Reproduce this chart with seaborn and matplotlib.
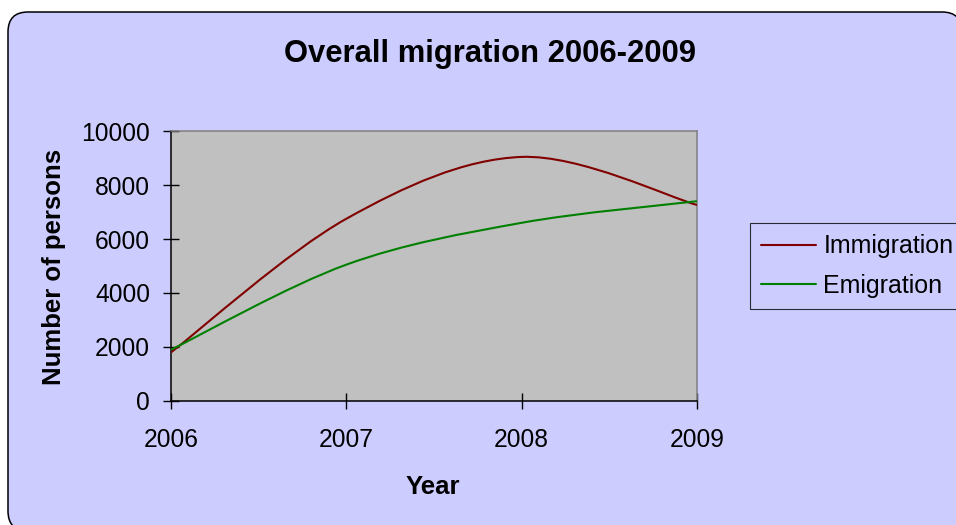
import numpy as np
import matplotlib
matplotlib.use("Agg")
import matplotlib.pyplot as plt
from matplotlib.path import Path
from matplotlib.patches import PathPatch, FancyBboxPatch
from matplotlib.lines import Line2D
import seaborn as sns

# Yearly totals
years = [2006, 2007, 2008, 2009]
immigration = [1800, 6750, 9040, 7260]
emigration = [1900, 5050, 6600, 7400]
series_names = ["Immigration", "Emigration"]
series_colors = ["#800000", "#008000"]
y_ticks = [0, 2000, 4000, 6000, 8000, 10000]
x_tick_labels = ["2006", "2007", "2008", "2009"]

sns.set_theme(style="white")
plt.rcParams["font.family"] = ["Liberation Sans", "DejaVu Sans"]
plt.rcParams["text.color"] = "black"
plt.rcParams["axes.labelcolor"] = "black"

W, H = 956, 525
fig = plt.figure(figsize=(W / 100, H / 100), dpi=100)
fig.patch.set_facecolor("white")


def fx(px):
    return px / W


def fy(py):
    return 1 - py / H


# Rounded chart panel (coordinates in inches so the corners stay circular)
panel_left, panel_top, panel_right, panel_bottom = 8, 12, 962, 531
panel = FancyBboxPatch((panel_left / 100, (H - panel_bottom) / 100),
                       (panel_right - panel_left) / 100, (panel_bottom - panel_top) / 100,
                       boxstyle="round,pad=0,rounding_size=0.2",
                       transform=fig.dpi_scale_trans, facecolor="#CCCCFF",
                       edgecolor="black", linewidth=1.1, zorder=0)
fig.add_artist(panel)

ax = fig.add_axes([fx(171), fy(401), (697 - 171) / W, (401 - 131) / H])
ax.set_facecolor("#C0C0C0")


def smooth_path(xs, ys):
    """Cubic Bezier path through the points (spreadsheet-style smoothed line)."""
    pts = np.column_stack([xs, ys]).astype(float)
    n = len(pts)
    verts = [pts[0]]
    codes = [Path.MOVETO]
    for i in range(n - 1):
        p0 = pts[max(i - 1, 0)]
        p1 = pts[i]
        p2 = pts[i + 1]
        p3 = pts[min(i + 2, n - 1)]
        c1 = p1 + (p2 - p0) / 6.0
        c2 = p2 - (p3 - p1) / 6.0
        verts += [c1, c2, p2]
        codes += [Path.CURVE4] * 3
    return Path(verts, codes)


for values, color in zip([immigration, emigration], series_colors):
    ax.add_patch(PathPatch(smooth_path(years, values), facecolor="none",
                           edgecolor=color, linewidth=1.5, zorder=3,
                           capstyle="butt", joinstyle="round"))

ax.set_xlim(years[0], years[-1])
ax.set_ylim(y_ticks[0], y_ticks[-1])
ax.set_xticks(years)
ax.set_xticklabels(x_tick_labels)
ax.set_yticks(y_ticks)
ax.set_yticklabels([str(v) for v in y_ticks])
ax.grid(False)

for side in ["left", "bottom"]:
    ax.spines[side].set_color("black")
    ax.spines[side].set_linewidth(1.1)
for side in ["top", "right"]:
    ax.spines[side].set_color("#808080")
    ax.spines[side].set_linewidth(1.1)
    ax.spines[side].set_visible(True)

ax.tick_params(axis="both", direction="inout", length=11.5, width=1.0,
               colors="black", labelsize=17.7, labelcolor="black")
ax.tick_params(axis="x", pad=13.5, bottom=True)
ax.tick_params(axis="y", pad=9.4, left=True)

fig.text(fx(490.5), fy(62), "Overall migration 2006-2009", fontsize=22.3,
         fontweight="bold", ha="center", va="baseline", color="black")
fig.text(fx(54), fy(266.5), "Number of persons", fontsize=18.5,
         fontweight="bold", rotation=90, ha="center", va="center", color="black")
fig.text(fx(433), fy(494), "Year", fontsize=18.5, fontweight="bold",
         ha="center", va="baseline", color="black")

handles = [Line2D([], [], color=c, linewidth=1.5) for c in series_colors]
leg = fig.legend(handles, series_names, loc="upper left",
                 bbox_to_anchor=(fx(750), fy(223)), bbox_transform=fig.transFigure,
                 borderaxespad=0, fontsize=18, frameon=True, fancybox=False,
                 shadow=False, handlelength=2.2, handletextpad=0.28,
                 borderpad=0.45, labelspacing=0.62)
leg.get_frame().set_facecolor("none")
leg.get_frame().set_edgecolor("black")
leg.get_frame().set_linewidth(0.8)
for t in leg.get_texts():
    t.set_color("black")

fig.savefig("out.png", dpi=100, facecolor="white")
